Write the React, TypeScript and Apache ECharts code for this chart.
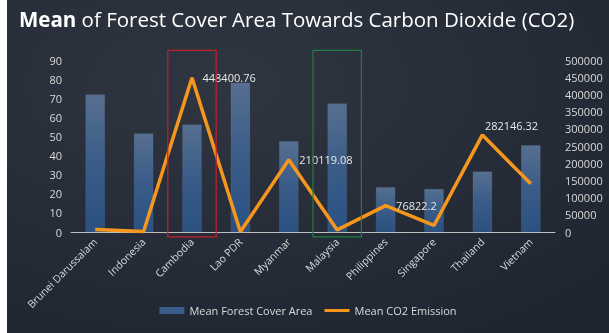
import React, { useEffect, useRef } from "react";
import * as echarts from "echarts";

const categories = [
  "Brunei Darussalam",
  "Indonesia",
  "Cambodia",
  "Lao PDR",
  "Myanmar",
  "Malaysia",
  "Philippines",
  "Singapore",
  "Thailand",
  "Vietnam",
];
const forestCover = [72.0, 51.6, 56.2, 78.1, 47.5, 67.3, 23.4, 22.5, 31.6, 45.4];
const co2Emission = [7000, 1500, 448400.76, 500, 210119.08, 6000, 76822.2, 19000, 282146.32, 140000];
const labeledPoints = ["Cambodia", "Myanmar", "Philippines", "Thailand"];
const leftAxis = { min: 0, max: 90, interval: 10 };
const rightAxis = { min: 0, max: 500000, interval: 50000 };
const highlights = [
  { name: "Cambodia", color: "#c4202b" },
  { name: "Malaysia", color: "#1f7f3c" },
];
const highlightRange = [-2.5, 95];

const FONT = "'Open Sans', 'Noto Sans', sans-serif";
const TXT = "#d9d9d9";
const ORANGE = "#f7961d";

export default function App() {
  const ref = useRef<HTMLDivElement>(null);
  useEffect(() => {
    if (!ref.current) return;
    const chart = echarts.init(ref.current, null, { renderer: "svg" });
    const option: any = {
      animation: false,
      backgroundColor: {
        type: "radial",
        x: 0.35,
        y: 0.25,
        r: 0.9,
        colorStops: [
          { offset: 0, color: "#2f3641" },
          { offset: 1, color: "#1e2530" },
        ],
      },
      textStyle: { fontFamily: FONT },
      title: {
        left: 12,
        top: 8,
        padding: 0,
        text: "{b|Mean} of Forest Cover Area Towards Carbon Dioxide (CO2)",
        textStyle: {
          color: "#ffffff",
          fontSize: 20.5,
          fontWeight: "normal",
          fontFamily: FONT,
          rich: {
            b: { fontSize: 20.5, fontWeight: "bold", color: "#ffffff", fontFamily: FONT },
          },
        },
      },
      legend: {
        left: "center",
        top: 300,
        itemWidth: 25,
        itemHeight: 7,
        itemGap: 12,
        textStyle: { color: TXT, fontSize: 11, fontFamily: FONT },
        data: [
          {
            name: "Mean Forest Cover Area",
            icon: "rect",
            itemStyle: { color: "#3b5d89", borderWidth: 0 },
          },
          {
            name: "Mean CO2 Emission",
            icon: "path://M0,0 L25,0 L25,3 L0,3 Z",
            itemStyle: { color: ORANGE, borderWidth: 0 },
          },
        ],
      },
      grid: { left: 64, right: 54, top: 60, bottom: 101, containLabel: false },
      xAxis: {
        type: "category",
        data: categories,
        axisLine: { lineStyle: { color: "#bfbfbf", width: 1 } },
        axisTick: { show: false },
        axisLabel: { color: TXT, fontSize: 10.5, rotate: 45, interval: 0, margin: 8, fontFamily: FONT },
      },
      yAxis: [
        {
          type: "value",
          min: leftAxis.min,
          max: leftAxis.max,
          interval: leftAxis.interval,
          splitLine: { show: false },
          axisLine: { show: false },
          axisTick: { show: false },
          axisLabel: { color: TXT, fontSize: 11, margin: 9, fontFamily: FONT, formatter: (v: number) => String(v) },
        },
        {
          type: "value",
          min: rightAxis.min,
          max: rightAxis.max,
          interval: rightAxis.interval,
          splitLine: { show: false },
          axisLine: { show: false },
          axisTick: { show: false },
          axisLabel: { color: TXT, fontSize: 11, margin: 10, fontFamily: FONT, formatter: (v: number) => String(v) },
        },
      ],
      series: [
        {
          name: "Mean Forest Cover Area",
          type: "bar",
          yAxisIndex: 0,
          barWidth: "40%",
          data: forestCover,
          itemStyle: {
            color: {
              type: "linear",
              x: 0,
              y: 0,
              x2: 0,
              y2: 1,
              colorStops: [
                { offset: 0, color: "#566f90" },
                { offset: 0.5, color: "#3a5c88" },
                { offset: 1, color: "#2a5182" },
              ],
            },
            borderColor: "rgba(120,140,170,0.35)",
            borderWidth: 0.5,
          },
        },
        {
          name: "Mean CO2 Emission",
          type: "line",
          yAxisIndex: 1,
          symbol: "circle",
          symbolSize: 1,
          showSymbol: true,
          lineStyle: { color: ORANGE, width: 3.5 },
          itemStyle: { color: "rgba(247,150,29,0)", borderWidth: 0 },
          data: co2Emission.map((v, i) => {
            const name = categories[i];
            const show = labeledPoints.includes(name);
            const label: any = {
              show,
              position: "right",
              distance: 10,
              color: "#e8e8e8",
              fontSize: 11,
              fontFamily: FONT,
              formatter: String(v),
            };
            if (name === "Thailand") label.offset = [-8, -9];
            return { value: v, label };
          }),
        },
      ],
    };
    chart.setOption(option);

    const graphics: any[] = [];
    highlights.forEach((h) => {
      const idx = categories.indexOf(h.name);
      const cx = chart.convertToPixel({ xAxisIndex: 0 }, categories[idx]) as number;
      const next = chart.convertToPixel({ xAxisIndex: 0 }, categories[1]) as number;
      const first = chart.convertToPixel({ xAxisIndex: 0 }, categories[0]) as number;
      const band = next - first;
      const yTop = chart.convertToPixel({ yAxisIndex: 0 }, highlightRange[1]) as number;
      const yBot = chart.convertToPixel({ yAxisIndex: 0 }, highlightRange[0]) as number;
      graphics.push({
        type: "rect",
        shape: { x: cx - band / 2, y: yTop, width: band, height: yBot - yTop },
        style: { fill: "none", stroke: h.color, lineWidth: 1.2 },
        z: 10,
      });
    });
    chart.setOption({ graphic: graphics });

    return () => chart.dispose();
  }, []);
  return (
    <div
      ref={ref}
      style={{ position: "fixed", left: 7, top: 0, width: 602, height: 333 }}
    />
  );
}
